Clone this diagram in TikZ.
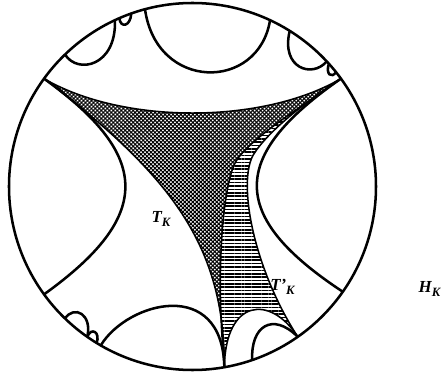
\documentclass[tikz,border=0pt]{standalone}
\usepackage{amsmath,amssymb}
\usepackage{fontspec}
\setmainfont{Liberation Serif}
\usepackage{tikz}
\usetikzlibrary{patterns.meta}
\newcommand{\lbl}[2]{\bfseries\itshape #1\raisebox{-0.6ex}{\fontsize{9}{10}\selectfont #2}}

\begin{document}
\begin{tikzpicture}[x=0.025cm,y=0.025cm,
  geo/.style={line width=1.8pt},
  tri/.style={line width=1.1pt},
  lab/.style={font=\fontsize{12}{14}\selectfont,inner sep=1pt}]
\useasboundingbox (-192.5,-188.5) rectangle (249.5,186.5);
\coordinate (O) at (0,0);
\coordinate (vL) at (144:183.5);
\coordinate (vR) at (36:183.5);
\coordinate (vB) at (280:183.5);
\coordinate (vP) at (305:183.5);
\coordinate (kR) at (44,26);
\coordinate (kP) at (61,32);
\fill[pattern={Hatch[angle=45,distance=2pt,line width=0.75pt]}] (vL) .. controls (-70,62) and (70,62) .. (vR) .. controls (110,80) and (60,50) .. (kR) .. controls (32,8) and (22,-75) .. (vB) .. controls (32,-60) and (-20,10) .. cycle;
\fill[pattern={Lines[angle=0,distance=2.4pt,line width=1.1pt]}] (vR) .. controls (110,80) and (60,50) .. (kR) .. controls (32,8) and (22,-75) .. (vB) .. controls (33,-112) and (78,-108) .. (vP) .. controls (60,-80) and (45,5) .. (kP) .. controls (76,56) and (115,86) .. cycle;
\draw[tri] (vL) .. controls (-70,62) and (70,62) .. (vR);
\draw[tri] (vL) .. controls (-20,10) and (32,-60) .. (vB);
\draw[tri] (vR) .. controls (110,80) and (60,50) .. (kR) .. controls (32,8) and (22,-75) .. (vB);
\draw[tri] (vR) .. controls (115,86) and (76,56) .. (kP) .. controls (45,5) and (60,-80) .. (vP);
\draw[tri] (vB) .. controls (33,-112) and (78,-108) .. (vP);
\draw[geo] (O) circle[radius=183.5];
\draw[geo] (vL) .. controls (-40,30) and (-40,-30) .. (216:183.5);
\draw[geo] (vR) .. controls (36,30) and (36,-30) .. (325:183.5);
\draw[geo] (105:183.5) .. controls (-36,95) and (66,95) .. (65:183.5);
\draw[geo] (134:183.5) .. controls (-115,112) and (-76,120) .. (115:183.5);
\draw[geo] (113.5:183.5) .. controls (-72,158) and (-62,160) .. (109.5:183.5);
\draw[geo] (58:183.5) .. controls (88,118) and (120,108) .. (43:183.5);
\draw[geo] (42:183.5) .. controls (133,112) and (139,108) .. (38.5:183.5);
\draw[geo] (240:183.5) .. controls (-65,-115) and (30,-90) .. (vB);
\draw[geo] (226:183.5) .. controls (-118,-118) and (-100,-128) .. (235:183.5);
\draw[geo] (235:183.5) .. controls (-101,-140) and (-92,-146) .. (238.5:183.5);
\draw[geo] (289:183.5) .. controls (58,-140) and (80,-125) .. (vP);
\node[lab] (tk) at (-31.5,-32.5) {\lbl{T}{K}};
\node[lab] (tkp) at (90,-100.5) {\lbl{T'}{K}};
\node[lab] (hk) at (237,-102.5) {\lbl{H}{K}};
\end{tikzpicture}
\end{document}
